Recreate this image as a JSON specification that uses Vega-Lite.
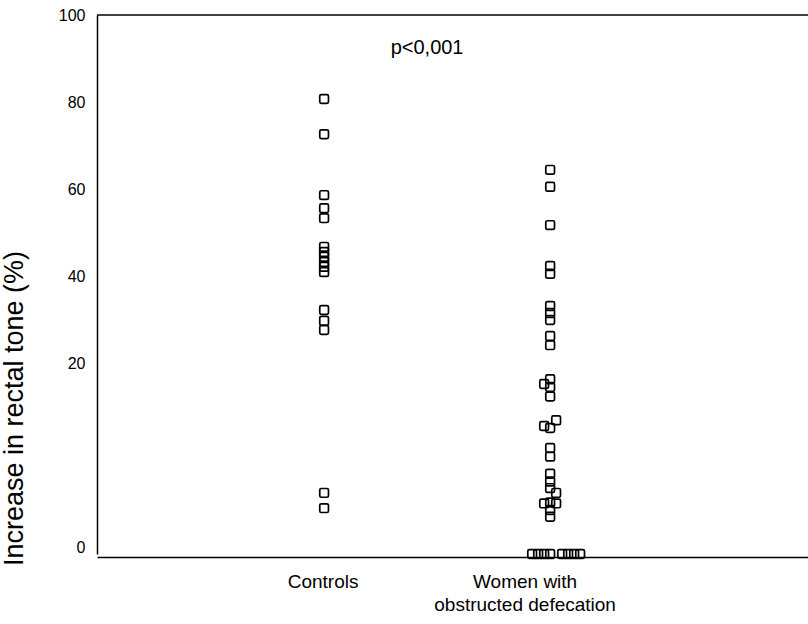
{
  "$schema": "https://vega.github.io/schema/vega-lite/v6.json",
  "width": 712,
  "height": 542,
  "padding": {"left": 0, "top": 7, "right": 0, "bottom": 0},
  "background": "white",
  "config": {"view": {"stroke": null}, "font": "Liberation Sans"},
  "data": {
    "values": [
      {"group": "Controls", "value": 80.7, "slot": 0},
      {"group": "Controls", "value": 72.6, "slot": 0},
      {"group": "Controls", "value": 58.6, "slot": 0},
      {"group": "Controls", "value": 55.6, "slot": 0},
      {"group": "Controls", "value": 53.3, "slot": 0},
      {"group": "Controls", "value": 46.7, "slot": 0},
      {"group": "Controls", "value": 45.5, "slot": 0},
      {"group": "Controls", "value": 44.4, "slot": 0},
      {"group": "Controls", "value": 43.2, "slot": 0},
      {"group": "Controls", "value": 42.1, "slot": 0},
      {"group": "Controls", "value": 40.9, "slot": 0},
      {"group": "Controls", "value": 32.2, "slot": 0},
      {"group": "Controls", "value": 29.7, "slot": 0},
      {"group": "Controls", "value": 27.6, "slot": 0},
      {"group": "Controls", "value": 6.4, "slot": 0},
      {"group": "Controls", "value": 4.8, "slot": 0},
      {"group": "Women with obstructed defecation", "value": 64.4, "slot": 0},
      {"group": "Women with obstructed defecation", "value": 60.5, "slot": 0},
      {"group": "Women with obstructed defecation", "value": 51.7, "slot": 0},
      {"group": "Women with obstructed defecation", "value": 42.3, "slot": 0},
      {"group": "Women with obstructed defecation", "value": 40.5, "slot": 0},
      {"group": "Women with obstructed defecation", "value": 33.1, "slot": 0},
      {"group": "Women with obstructed defecation", "value": 31.5, "slot": 0},
      {"group": "Women with obstructed defecation", "value": 29.9, "slot": 0},
      {"group": "Women with obstructed defecation", "value": 26.2, "slot": 0},
      {"group": "Women with obstructed defecation", "value": 24.1, "slot": 0},
      {"group": "Women with obstructed defecation", "value": 18.3, "slot": 0},
      {"group": "Women with obstructed defecation", "value": 17.8, "slot": -1},
      {"group": "Women with obstructed defecation", "value": 17.5, "slot": 0},
      {"group": "Women with obstructed defecation", "value": 16.5, "slot": 0},
      {"group": "Women with obstructed defecation", "value": 14.0, "slot": 1},
      {"group": "Women with obstructed defecation", "value": 13.4, "slot": -1},
      {"group": "Women with obstructed defecation", "value": 13.2, "slot": 0},
      {"group": "Women with obstructed defecation", "value": 11.1, "slot": 0},
      {"group": "Women with obstructed defecation", "value": 10.2, "slot": 0},
      {"group": "Women with obstructed defecation", "value": 8.4, "slot": 0},
      {"group": "Women with obstructed defecation", "value": 7.6, "slot": 0},
      {"group": "Women with obstructed defecation", "value": 6.9, "slot": 0},
      {"group": "Women with obstructed defecation", "value": 6.4, "slot": 1},
      {"group": "Women with obstructed defecation", "value": 5.3, "slot": -1},
      {"group": "Women with obstructed defecation", "value": 5.4, "slot": 0},
      {"group": "Women with obstructed defecation", "value": 5.3, "slot": 1},
      {"group": "Women with obstructed defecation", "value": 4.6, "slot": 0},
      {"group": "Women with obstructed defecation", "value": 3.9, "slot": 0},
      {"group": "Women with obstructed defecation", "value": 0, "slot": -3},
      {"group": "Women with obstructed defecation", "value": 0, "slot": -2},
      {"group": "Women with obstructed defecation", "value": 0, "slot": -1},
      {"group": "Women with obstructed defecation", "value": 0, "slot": 0},
      {"group": "Women with obstructed defecation", "value": 0, "slot": 2},
      {"group": "Women with obstructed defecation", "value": 0, "slot": 3},
      {"group": "Women with obstructed defecation", "value": 0, "slot": 4},
      {"group": "Women with obstructed defecation", "value": 0, "slot": 5}
    ]
  },
  "layer": [
    {
      "data": {"values": [{}]},
      "mark": {"type": "rule", "color": "black", "strokeWidth": 1.5},
      "encoding": {"y": {"datum": 100, "type": "quantitative", "title": null}}
    },
    {
      "mark": {
        "type": "point",
        "shape": "M -0.65 -1 L 0.65 -1 Q 1 -1 1 -0.65 L 1 0.65 Q 1 1 0.65 1 L -0.65 1 Q -1 1 -1 0.65 L -1 -0.65 Q -1 -1 -0.65 -1 Z",
        "size": 76,
        "filled": false,
        "stroke": "black",
        "strokeWidth": 1.7,
        "opacity": 1
      },
      "encoding": {
        "x": {
          "field": "group",
          "type": "nominal",
          "scale": {"type": "band", "domain": ["Controls", "Women with obstructed defecation"], "paddingInner": 0.85, "paddingOuter": 1, "align": 0.467},
          "axis": {
            "title": null,
            "domainColor": "black",
            "domainWidth": 1.5,
            "ticks": false,
            "labelFontSize": 19,
            "labelColor": "black",
            "labelPadding": 15,
            "labelAngle": 0,
            "labelLineHeight": 23,
            "labelLimit": 400,
            "labelExpr": "datum.value == 'Controls' ? 'Controls' : ['Women with', 'obstructed defecation']",
            "labelOffset": {"condition": {"test": "datum.value == 'Controls'", "value": -2}, "value": -26}
          }
        },
        "xOffset": {"field": "slot", "type": "quantitative", "scale": {"domain": [-5, 5], "range": [-14, 46]}},
        "y": {
          "field": "value",
          "type": "quantitative",
          "scale": {"domain": [0, 20, 100], "range": [539, 348, 0], "nice": false, "zero": false},
          "axis": {
            "title": "Increase in rectal tone (%)",
            "values": [0, 20, 40, 60, 80, 100],
            "ticks": false,
            "grid": false,
            "domainColor": "black",
            "domainWidth": 1.5,
            "labelFontSize": 16,
            "labelPadding": 12,
            "labelColor": "black",
            "titleFontSize": 27,
            "titleFontWeight": "normal",
            "titleColor": "black",
            "titleX": -83,
            "titleY": 393,
            "titleAngle": -90,
            "titleAlign": "center",
            "titleBaseline": "middle",
            "labelOffset": {"condition": {"test": "datum.value == 0", "value": -7}, "value": 0}
          }
        }
      }
    },
    {
      "data": {"values": [{}]},
      "mark": {"type": "text", "text": "p<0,001", "fontSize": 20, "fontWeight": "normal", "dx": 102, "color": "black", "align": "center", "baseline": "middle"},
      "encoding": {
        "x": {"datum": "Controls", "type": "nominal", "title": null},
        "y": {"datum": 92.4, "type": "quantitative", "title": null}
      }
    }
  ]
}
